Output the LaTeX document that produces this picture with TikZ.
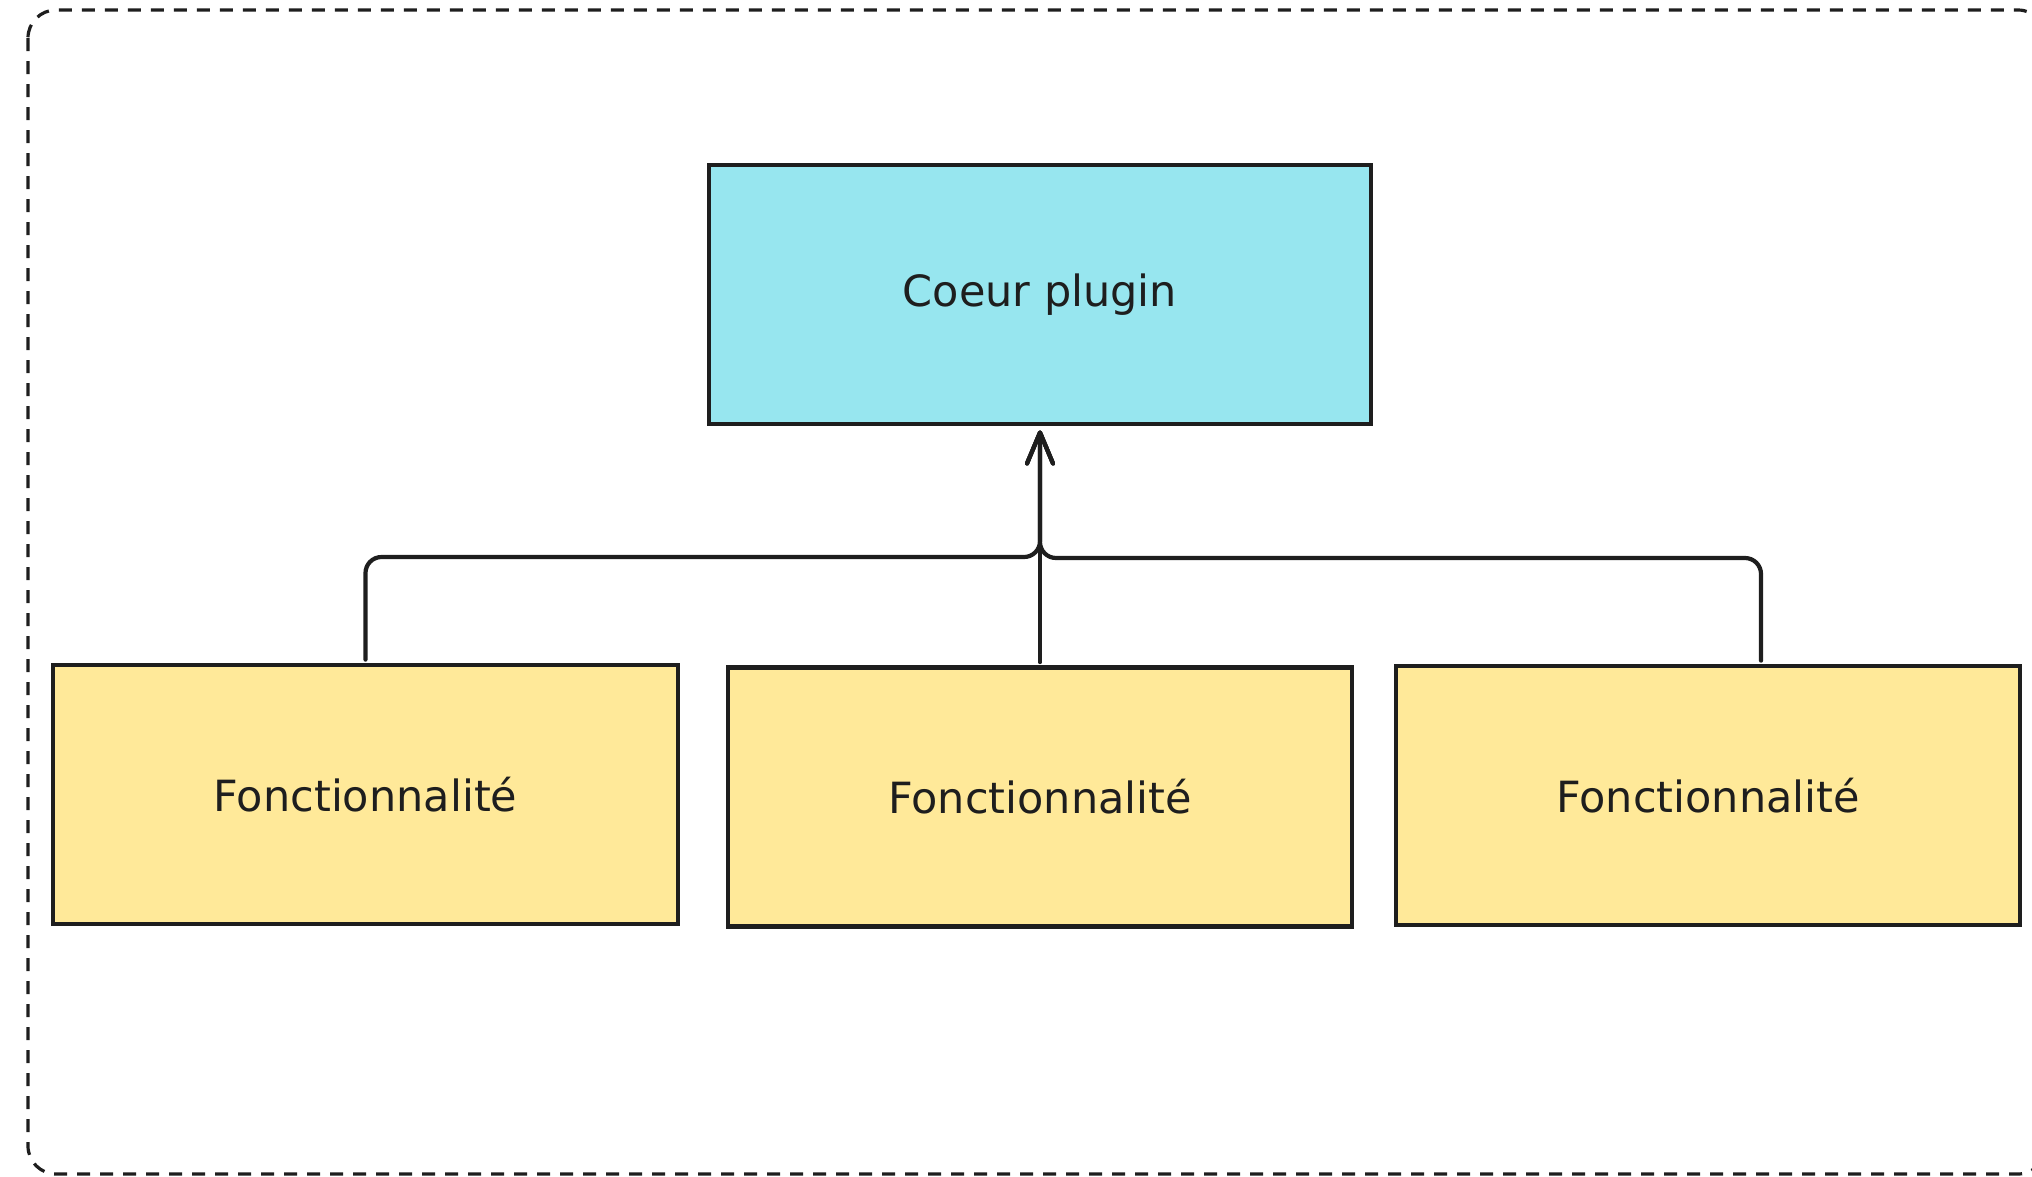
\documentclass[tikz,border=0pt]{standalone}
\usepackage{fontspec}
\setmainfont{DejaVu Sans}
\usetikzlibrary{arrows.meta}
\definecolor{ink}{HTML}{1E1E1E}
\definecolor{cyanfill}{HTML}{97E6EF}
\definecolor{yellowfill}{HTML}{FFE999}
\begin{document}
\begin{tikzpicture}[x=1pt,y=-1pt,
  box/.style={draw=ink, line width=4.8pt, minimum height=259pt, inner sep=0pt,
    font=\fontsize{43}{50}\selectfont, text=ink},
  conn/.style={draw=ink, line width=4.2pt, line cap=round, rounded corners=16pt,
    -{Straight Barb[length=31pt,width=26pt,line width=4.2pt,round]}, shorten >=4pt, shorten <=3pt},
  frame/.style={draw=ink, line width=3.2pt, dash pattern=on 13pt off 10pt, rounded corners=28pt}]
\useasboundingbox (0,0) rectangle (2032,1176);
\begin{scope}
\clip (0,0) rectangle (2032,1176);
\draw[frame] (28,10) rectangle (2046,1174);
\end{scope}
\node[box, fill=cyanfill, minimum width=662pt] (core) at (1040,294.5) {Coeur plugin};
\node[box, fill=yellowfill, minimum width=625pt] (f1) at (365.5,794.5) {Fonctionnalité};
\node[box, fill=yellowfill, minimum width=624pt] (f2) at (1040,797) {Fonctionnalité};
\node[box, fill=yellowfill, minimum width=624pt] (f3) at (1708,795.5) {Fonctionnalité};
\coordinate (s3) at ([xshift=53pt]f3.north);
\coordinate (jl) at (f1.north |- 0,557);
\coordinate (jr) at (s3 |- 0,558);
\coordinate (jc) at (core.south |- 0,557);
\draw[conn] (f1.north) -- (jl) -- (jc) -- (core.south);
\draw[conn] (s3) -- (jr) -- (jc |- 0,558) -- (core.south);
\draw[conn] (f2.north) -- (core.south);
\end{tikzpicture}
\end{document}
